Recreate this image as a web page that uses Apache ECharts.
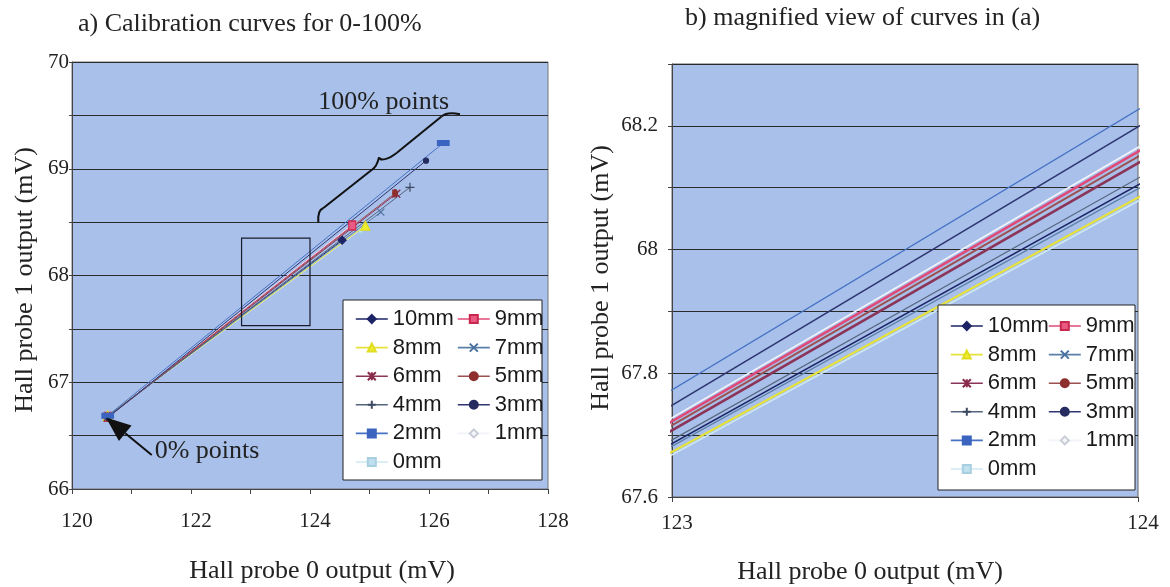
<!DOCTYPE html>
<html>
<head>
<meta charset="utf-8">
<script src="https://cdn.jsdelivr.net/npm/echarts@6/dist/echarts.min.js"></script>
<style>
  html, body { margin: 0; padding: 0; background: #fff; }
  #main { width: 1170px; height: 587px; }
</style>
</head>
<body>
<div id="main"></div>
<script>
// Calibration lines: each sensor gap is drawn from its 0% point to its 100% point.
const names = ['10mm', '9mm', '8mm', '7mm', '6mm', '5mm', '4mm', '3mm', '2mm', '1mm', '0mm'];
// Hall probe 0 output (mV) at 0% and 100%
const x0 = [120.6, 120.6, 120.6, 120.6, 120.6, 120.6, 120.6, 120.6, 120.6, 120.6, 120.6];
const x100 = [124.54, 124.71, 124.93, 125.19, 125.45, 125.43, 125.68, 125.95, 126.24, 124.75, 124.85];
// Hall probe 1 output (mV) at 0% and 100%
const y0 = [66.683, 66.676, 66.687, 66.684, 66.671, 66.674, 66.677, 66.668, 66.686, 66.679, 66.684];
const y100 = [68.330, 68.468, 68.466, 68.593, 68.766, 68.771, 68.826, 69.076, 69.241, 68.493, 68.427];

// legend columns
const legendColA = ['10mm', '8mm', '6mm', '4mm', '2mm', '0mm'];
const legendColB = ['9mm', '7mm', '5mm', '3mm', '1mm'];

// series styling
const lineColor = ['#1c2466', '#e04a78', '#e6e23a', '#5a7fa8', '#8c3358', '#9c5050', '#56657e', '#2e3570', '#4672c4', '#f2f4fa', '#cfe8f2'];
const markFill  = ['#1c2466', '#ea5a82', '#f0ec30', '#4a70a0', '#8a2a4a', '#8e2e2e', '#3c4a62', '#262c60', '#3a64c0', '#f6f7fb', '#bfe0ee'];
const markEdge  = ['#1c2466', '#c8284e', '#e0dc20', '#4a70a0', '#8a2a4a', '#8e2e2e', '#3c4a62', '#262c60', '#3a64c0', '#c8ccd6', '#a8cfe0'];
const markShape = ['diamond', 'rect', 'triangle',
  'path://M0,0L10,10M10,0L0,10',
  'path://M0,0L10,10M10,0L0,10M5,0L5,10',
  'circle',
  'path://M5,0L5,10M0,5L10,5',
  'circle', 'rect', 'diamond', 'rect'];
const markSize = [8, [7, 9], 9, 7, 8, [5, 7], 9, 5, [11, 5], 6, [4, 6]];
const zoomWidth = [1.5, 2.6, 2.2, 1.3, 2.6, 2, 1.3, 1.5, 1.3, 1.6, 1.6];

const serif = '"Liberation Serif", "Times New Roman", serif';
const sans = '"Liberation Sans", Arial, sans-serif';

function lineSeries(i, axisIdx, width) {
  return {
    type: 'line',
    name: names[i],
    xAxisIndex: axisIdx,
    yAxisIndex: axisIdx,
    data: [[x0[i], y0[i]], [x100[i], y100[i]]],
    clip: true,
    symbol: markShape[i],
    symbolSize: markSize[i],
    showSymbol: true,
    lineStyle: { color: lineColor[i], width: width },
    itemStyle: { color: markFill[i], borderColor: markEdge[i], borderWidth: 1.2 },
    emphasis: { disabled: true },
    silent: true,
    z: i >= 9 ? 1 : 2
  };
}

const series = [];
names.forEach((n, i) => series.push(lineSeries(i, 0, 1)));
names.forEach((n, i) => series.push(lineSeries(i, 1, zoomWidth[i])));

const tickFont = { fontFamily: serif, fontSize: 21, color: '#222' };
const legendText = { fontFamily: sans, fontSize: 22, color: '#1a1a1a', lineHeight: 22 };

function legend(data, left, top) {
  return {
    data: data, orient: 'vertical', left: left, top: top, padding: 0,
    itemWidth: 32, itemHeight: 10, itemGap: 6.6, selectedMode: false,
    textStyle: legendText, lineStyle: { width: 1.6 }, z: 6
  };
}

const option = {
  backgroundColor: '#ffffff',
  animation: false,
  grid: [
    { left: 72, top: 62, width: 476, height: 427, show: true, backgroundColor: '#a8c0ea', borderColor: '#777', borderWidth: 1 },
    { left: 672, top: 64, width: 466, height: 433, show: true, backgroundColor: '#a8c0ea', borderColor: '#666', borderWidth: 1 }
  ],
  xAxis: [
    {
      type: 'value', gridIndex: 0, min: 120, max: 128, interval: 1,
      axisLine: { show: true, lineStyle: { color: '#444' } },
      axisTick: { show: true, length: 5, lineStyle: { color: '#444' } },
      splitLine: { show: false },
      axisLabel: Object.assign({ margin: 22, padding: [0, 0, 0, 10],
        formatter: v => (Math.round(v) % 2 === 0 ? String(Math.round(v)) : '') }, tickFont)
    },
    {
      type: 'value', gridIndex: 1, min: 123, max: 124, interval: 1,
      axisLine: { show: true, lineStyle: { color: '#444' } },
      axisTick: { show: true, length: 5, lineStyle: { color: '#444' } },
      splitLine: { show: false },
      axisLabel: Object.assign({ margin: 16, padding: [0, 0, 0, 10] }, tickFont)
    }
  ],
  yAxis: [
    {
      type: 'value', gridIndex: 0, min: 66, max: 70, interval: 0.5,
      axisLine: { show: true, lineStyle: { color: '#444' } },
      axisTick: { show: true, length: 3, lineStyle: { color: '#444' } },
      splitLine: { show: true, lineStyle: { color: '#2a2a2a', width: 1 } },
      axisLabel: Object.assign({ margin: 3, padding: [0, 0, 6, 0],
        formatter: v => (Math.abs(v - Math.round(v)) < 1e-6 ? String(Math.round(v)) : '') }, tickFont)
    },
    {
      type: 'value', gridIndex: 1, min: 67.6, max: 68.3, interval: 0.1,
      axisLine: { show: true, lineStyle: { color: '#444' } },
      axisTick: { show: true, length: 4, lineStyle: { color: '#444' } },
      splitLine: { show: true, lineStyle: { color: '#2a2a2a', width: 1 } },
      axisLabel: Object.assign({ margin: 14, padding: [0, 0, 6, 0],
        formatter: v => {
          const t = Math.round(v * 10);
          return (t % 2 === 0 && t < 683) ? String(t / 10) : '';
        } }, tickFont)
    }
  ],
  legend: [
    legend(legendColA, 355, 308),
    legend(legendColB, 457, 308),
    legend(legendColA, 950, 315),
    legend(legendColB, 1048, 315)
  ],
  series: series
};

const chart = echarts.init(document.getElementById('main'), null, { renderer: 'canvas' });
chart.setOption(option);

// annotation anchors, in data units of the left panel
const arrowTip = [120.57, 66.67];
const arrowTail = [121.34, 66.318];
const braceKnots = [[124.14, 68.495], [124.22, 68.63], [125.04, 68.99], [125.16, 69.107],
                    [125.26, 69.09], [125.46, 69.15], [126.21, 69.49], [126.52, 69.51]];
const zoomBox = [[122.85, 68.35], [124.0, 67.53]];
const label100 = [124.14, 69.625];
const label0 = [121.39, 66.356];

const px = p => chart.convertToPixel({ xAxisIndex: 0, yAxisIndex: 0 }, p);

const tip = px(arrowTip), tail = px(arrowTail);
const dx = tip[0] - tail[0], dy = tip[1] - tail[1];
const len = Math.hypot(dx, dy), ux = dx / len, uy = dy / len;
const headL = 25, headW = 10;
const bx = tip[0] - ux * headL, by = tip[1] - uy * headL;

const k = braceKnots.map(px);
const braceStyle = { fill: 'none', stroke: '#111', lineWidth: 2 };
function curve(a, b, cp) {
  return { type: 'bezierCurve', z: 3, style: braceStyle,
    shape: { x1: a[0], y1: a[1], x2: b[0], y2: b[1], cpx1: cp[0], cpy1: cp[1] } };
}
function seg(a, b) {
  return { type: 'line', z: 3, style: braceStyle,
    shape: { x1: a[0], y1: a[1], x2: b[0], y2: b[1] } };
}
const brace = [
  curve(k[0], k[1], [k[0][0] - 1, k[1][1] + 2]),
  seg(k[1], k[2]),
  curve(k[2], k[3], [k[2][0] + 5, k[2][1] - 3]),
  curve(k[3], k[4], [k[3][0] + 1, k[3][1] + 3]),
  curve(k[4], k[5], [k[4][0] + 5, k[4][1] - 1]),
  seg(k[5], k[6]),
  curve(k[6], k[7], [k[6][0] + 6, k[6][1] - 5])
];

const b1 = px(zoomBox[0]), b2 = px(zoomBox[1]);
const l100 = px(label100), l0 = px(label0);

const titleFont = '26px ' + serif;
const graphic = [
  // legend frames
  { type: 'rect', z: 3, shape: { x: 343, y: 300, width: 199, height: 180 },
    style: { fill: '#ffffff', stroke: '#222', lineWidth: 1 } },
  { type: 'rect', z: 3, shape: { x: 938, y: 305, width: 197, height: 185 },
    style: { fill: '#ffffff', stroke: '#222', lineWidth: 1 } },
  // region shown in panel b
  { type: 'rect', z: 3, shape: { x: b1[0], y: b1[1], width: b2[0] - b1[0], height: b2[1] - b1[1] },
    style: { fill: 'none', stroke: '#1a1a2a', lineWidth: 1.2 } },
  // arrow to the 0% points
  { type: 'line', z: 3, shape: { x1: tail[0], y1: tail[1], x2: bx, y2: by },
    style: { stroke: '#111', lineWidth: 2 } },
  { type: 'polygon', z: 3, shape: { points: [tip, [bx - uy * headW, by + ux * headW], [bx + uy * headW, by - ux * headW]] },
    style: { fill: '#111' } },
  { type: 'text', z: 3, x: l100[0], y: l100[1],
    style: { text: '100% points', font: titleFont, fill: '#222', textVerticalAlign: 'middle' } },
  { type: 'text', z: 3, x: l0[0], y: l0[1],
    style: { text: '0% points', font: titleFont, fill: '#222', textVerticalAlign: 'middle' } },
  // panel titles
  { type: 'text', z: 3, x: 78, y: 24,
    style: { text: 'a) Calibration curves for 0-100%', font: titleFont, fill: '#222', textVerticalAlign: 'middle' } },
  { type: 'text', z: 3, x: 685, y: 18,
    style: { text: 'b) magnified view of curves in (a)', font: titleFont, fill: '#222', textVerticalAlign: 'middle' } },
  // axis titles
  { type: 'text', z: 3, x: 322, y: 571,
    style: { text: 'Hall probe 0 output (mV)', font: titleFont, fill: '#222', textAlign: 'center', textVerticalAlign: 'middle' } },
  { type: 'text', z: 3, x: 870, y: 572,
    style: { text: 'Hall probe 0 output (mV)', font: titleFont, fill: '#222', textAlign: 'center', textVerticalAlign: 'middle' } },
  { type: 'text', z: 3, x: 25, y: 280, rotation: Math.PI / 2,
    style: { text: 'Hall probe 1 output (mV)', font: titleFont, fill: '#222', textAlign: 'center', textVerticalAlign: 'middle' } },
  { type: 'text', z: 3, x: 601, y: 278, rotation: Math.PI / 2,
    style: { text: 'Hall probe 1 output (mV)', font: titleFont, fill: '#222', textAlign: 'center', textVerticalAlign: 'middle' } }
].concat(brace);
chart.setOption({ graphic: graphic });
</script>
</body>
</html>
